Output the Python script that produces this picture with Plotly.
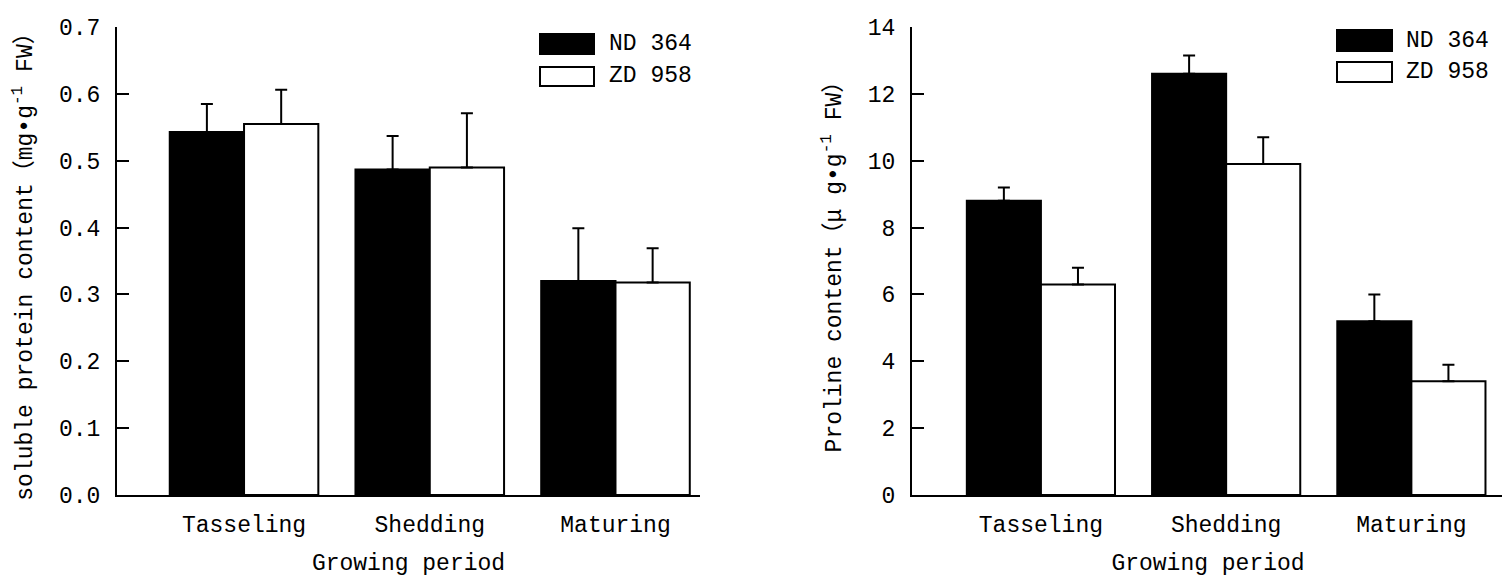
import plotly.graph_objects as go

periods = ["Tasseling", "Shedding", "Maturing"]
cultivars = ["ND 364", "ZD 958"]

# soluble protein, mg/g FW
protein_nd = [0.543, 0.487, 0.320]
protein_nd_err = [0.042, 0.050, 0.079]
protein_zd = [0.555, 0.490, 0.318]
protein_zd_err = [0.051, 0.081, 0.051]

# proline, ug/g FW
proline_nd = [8.8, 12.6, 5.2]
proline_nd_err = [0.4, 0.55, 0.8]
proline_zd = [6.3, 9.9, 3.4]
proline_zd_err = [0.5, 0.8, 0.5]

FONT = "Liberation Mono, Noto Sans CJK SC, monospace"
fills = ["black", "white"]

# page body has an 8px margin, so the figure is 8px smaller each way
W, H = 1502, 574
OFF = 8


def px(x):
    return (x - OFF) / W


def py(y):
    return 1 - (y - OFF) / H


def bar(y, err, fill, xa, ya):
    return go.Bar(
        x=periods, y=y, xaxis=xa, yaxis=ya, showlegend=False,
        marker=dict(color=fill, line=dict(color="black", width=2)),
        error_y=dict(type="data", symmetric=False, array=err,
                     arrayminus=[0] * len(err), color="black",
                     thickness=2, width=6),
    )


fig = go.Figure()
fig.add_trace(bar(protein_nd, protein_nd_err, fills[0], "x", "y"))
fig.add_trace(bar(protein_zd, protein_zd_err, fills[1], "x", "y"))
fig.add_trace(bar(proline_nd, proline_nd_err, fills[0], "x2", "y2"))
fig.add_trace(bar(proline_zd, proline_zd_err, fills[1], "x2", "y2"))


def xaxis(dom, rng, **kw):
    return dict(domain=dom, range=rng, automargin=False, showline=True,
                linecolor="black", linewidth=2, ticks="", showgrid=False,
                zeroline=False, ticklabelstandoff=7, tickfont=dict(size=23),
                title=dict(text="Growing period", font=dict(size=23),
                           standoff=16), **kw)


def yaxis(rng, dtick, title, **kw):
    return dict(domain=[py(495), py(27)], range=rng, dtick=dtick,
                automargin=False, showline=True, linecolor="black",
                linewidth=2, ticks="inside", ticklen=12, tickwidth=2,
                tickcolor="black", showgrid=False, zeroline=False,
                ticklabelstandoff=10, tickfont=dict(size=23),
                title=dict(text=title, font=dict(size=23), standoff=20), **kw)


fig.update_layout(
    width=W, height=H,
    margin=dict(l=0, r=0, t=0, b=0),
    plot_bgcolor="white", paper_bgcolor="white",
    font=dict(family=FONT, color="black", size=23),
    barmode="group", bargap=0.2, bargroupgap=0,
    xaxis=xaxis([px(117), px(700)], [-0.684, 2.455]),
    yaxis=yaxis([0, 0.7], 0.1,
                "soluble protein content\uff08mg\u2022g<sup>-1</sup> FW\uff09",
                tickformat=".1f"),
    xaxis2=xaxis([px(912), px(1504)], [-0.696, 2.50], anchor="y2"),
    yaxis2=yaxis([0, 14], 2,
                 "Proline content\uff08\u03bc g\u2022g<sup>-1</sup> FW\uff09",
                 anchor="x2"),
)

# legend boxes drawn by hand, one per panel
legends = [(540, 594, 607, [(34, 54), (67, 86)]),
           (1337, 1392, 1404, [(30, 51), (62, 82)])]
for x0, x1, xt, rows in legends:
    for (y0, y1), name, fill in zip(rows, cultivars, fills):
        fig.add_shape(type="rect", xref="paper", yref="paper",
                      x0=px(x0), x1=px(x1), y0=py(y1), y1=py(y0),
                      fillcolor=fill, line=dict(color="black", width=2))
        fig.add_annotation(xref="paper", yref="paper", x=px(xt),
                           y=py((y0 + y1) / 2), text=name,
                           showarrow=False, xanchor="left", yanchor="middle",
                           font=dict(size=23))

fig.write_html("out.html")
